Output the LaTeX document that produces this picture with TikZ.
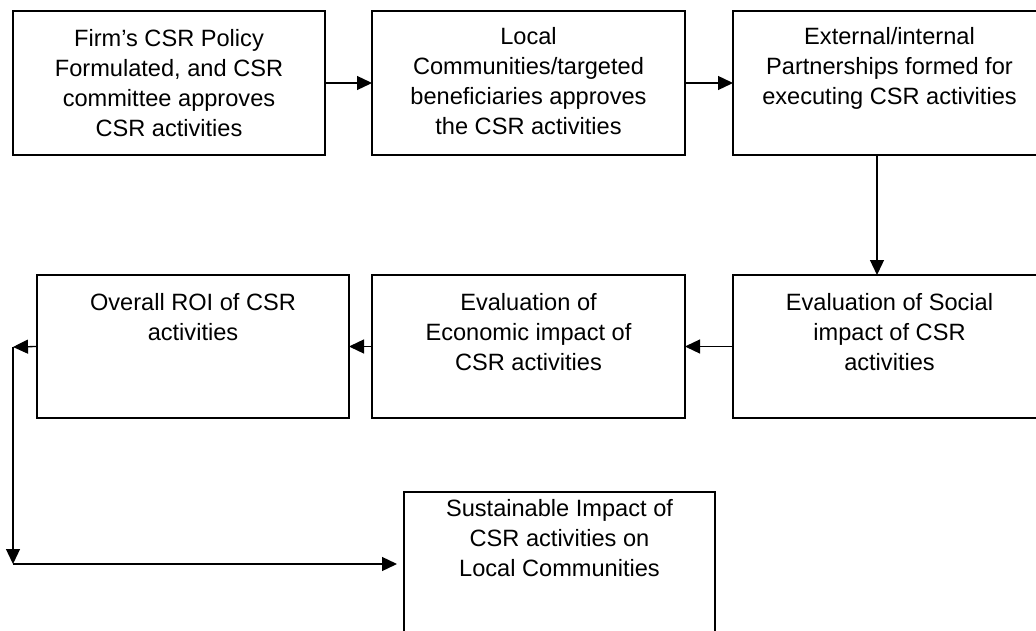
\documentclass[tikz,border=0pt]{standalone}
\usepackage{fontspec}
\setmainfont{Liberation Sans}
\usetikzlibrary{arrows.meta}
\begin{document}
\begin{tikzpicture}[x=1pt,y=-1pt,
  box/.style={draw=black,line width=1.6pt,rectangle,minimum width=312pt,minimum height=144pt,inner sep=0pt,outer sep=0pt,anchor=north west},
  txt/.style={anchor=north,align=center,inner sep=0pt,font=\fontsize{23.6pt}{30pt}\selectfont},
  arr/.style={line width=1.3pt,-{Triangle[length=15pt,width=14pt]}}]
\useasboundingbox (0,0) rectangle (1036,631);
\clip (0,0) rectangle (1036,631);
% boxes
\node[box] (b1) at (13,11) {};
\node[box,minimum width=313pt] (b2) at (372,11) {};
\node[box,minimum width=313pt] (b3) at (733,11) {};
\node[box,minimum width=313pt,minimum height=143pt] (b4) at (733,275) {};
\node[box,minimum width=313pt,minimum height=143pt] (b5) at (372,275) {};
\node[box,minimum height=143pt] (b6) at (37,275) {};
\node[box,minimum width=311pt] (b7) at (404,492) {};
% texts
\node[txt] (t1) at ([yshift=-18pt]b1.north) {Firm’s CSR Policy\\Formulated, and CSR\\committee approves\\CSR activities};
\node[txt] (t2) at ([yshift=-16pt]b2.north) {Local\\Communities/targeted\\beneficiaries approves\\the CSR activities};
\node[txt] (t3) at ([yshift=-16pt]b3.north) {External/internal\\Partnerships formed for\\executing CSR activities};
\node[txt] (t4) at ([yshift=-18pt]b4.north) {Evaluation of Social\\impact of CSR\\activities};
\node[txt] (t5) at ([yshift=-18pt]b5.north) {Evaluation of\\Economic impact of\\CSR activities};
\node[txt] (t6) at ([yshift=-18pt]b6.north) {Overall ROI of CSR\\activities};
\node[txt] (t7) at ([yshift=-7pt]b7.north) {Sustainable Impact of\\CSR activities on\\Local Communities};
% connectors
\coordinate (c1) at (13,347);
\coordinate (c2) at (b7.west -| c1);
\draw[arr] (b1.east) -- (b2.west);
\draw[arr] (b2.east) -- (b3.west);
\draw[arr] ([xshift=-12.5pt]b3.south) -- ([xshift=-12.5pt]b4.north);
\draw[arr] (b4.west) -- (b5.east);
\draw[arr] (b5.west) -- (b6.east);
\draw[arr] (b6.west) -- (c1);
\draw[arr] (c1) -- (c2);
\draw[arr,shorten >=7pt] (c2) -- (b7.west);
\end{tikzpicture}
\end{document}
